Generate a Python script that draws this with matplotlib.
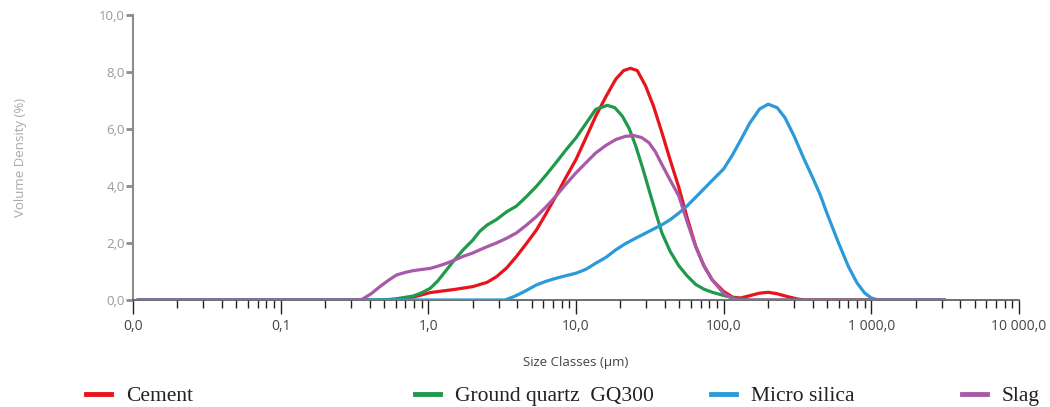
import matplotlib
matplotlib.use("Agg")
import matplotlib.pyplot as plt
from matplotlib.lines import Line2D
from matplotlib.ticker import FixedLocator, LogLocator, NullFormatter

# ---- data (size in µm, volume density in %) ----
cement_x = [0.0106, 0.55, 0.7, 0.79, 1.03, 1.5, 2.0, 2.5, 2.9, 3.4, 3.94, 4.6, 5.4, 6.3, 7.3, 8.5,
            10, 11.7, 13.6, 16, 18.6, 21, 23.4, 26, 29.6, 33.5, 38.2, 43.5, 49.7, 56.5, 64.5,
            73.5, 83.8, 100, 115, 130, 150, 175, 200, 230, 270, 320, 360, 3200]
cement_y = [0, 0, 0.06, 0.1, 0.26, 0.37, 0.47, 0.62, 0.82, 1.13, 1.52, 1.97, 2.46, 3.05, 3.64, 4.28,
            4.93, 5.7, 6.45, 7.15, 7.75, 8.05, 8.13, 8.05, 7.51, 6.8, 5.87, 4.9, 3.95, 2.9, 1.9,
            1.2, 0.7, 0.3, 0.1, 0.07, 0.15, 0.24, 0.27, 0.22, 0.12, 0.03, 0, 0]

quartz_x = [0.0106, 0.5, 0.6, 0.79, 0.9, 1.03, 1.15, 1.33, 1.5, 1.72, 2.0, 2.23, 2.5, 2.89, 3.4,
            3.94, 4.6, 5.4, 6.3, 7.3, 8.5, 10, 11.7, 13.6, 16.3, 18.3, 20.6, 23, 25.4, 28.2,
            31.2, 34.5, 38.2, 43.5, 49.7, 56.5, 64.5, 73.5, 83.8, 100, 115, 130, 150, 3200]
quartz_y = [0, 0, 0.04, 0.14, 0.25, 0.41, 0.65, 1.06, 1.4, 1.76, 2.1, 2.41, 2.63, 2.82, 3.1,
            3.29, 3.62, 3.99, 4.4, 4.81, 5.25, 5.69, 6.2, 6.69, 6.83, 6.75, 6.45, 6.0, 5.4, 4.65,
            3.87, 3.1, 2.35, 1.7, 1.2, 0.85, 0.55, 0.38, 0.27, 0.16, 0.08, 0.03, 0, 0]

silica_x = [0.0106, 3.3, 3.8, 4.37, 5.4, 6.3, 7.3, 8.5, 10, 11.7, 13.6, 16, 18.6, 21.5, 25.4, 31,
            38.2, 43.5, 49.7, 56.5, 64.5, 73.5, 83.8, 100, 115, 130, 150, 175, 200, 230, 260,
            300, 350, 400, 450, 500, 600, 700, 800, 900, 1000, 1100, 1200, 3200]
silica_y = [0, 0, 0.12, 0.27, 0.53, 0.66, 0.76, 0.85, 0.94, 1.08, 1.29, 1.5, 1.76, 1.97, 2.17, 2.4,
            2.64, 2.82, 3.05, 3.3, 3.6, 3.9, 4.2, 4.6, 5.1, 5.6, 6.2, 6.7, 6.87, 6.75, 6.4,
            5.75, 4.95, 4.3, 3.7, 3.05, 2.0, 1.17, 0.6, 0.25, 0.07, 0.01, 0, 0]

slag_x = [0.0106, 0.35, 0.41, 0.47, 0.54, 0.61, 0.7, 0.79, 0.9, 1.03, 1.15, 1.33, 1.5, 1.72, 2.0,
          2.23, 2.5, 2.89, 3.4, 3.94, 4.6, 5.4, 6.3, 7.3, 8.5, 10, 11.7, 13.6, 16, 18.6, 21.5,
          24.7, 27.8, 31.2, 34.5, 38.2, 43.5, 49.7, 56.5, 64.5, 73.5, 83.8, 100, 115, 125, 3200]
slag_y = [0, 0, 0.22, 0.47, 0.7, 0.88, 0.97, 1.03, 1.07, 1.11, 1.18, 1.29, 1.4, 1.53, 1.65,
          1.76, 1.87, 2.0, 2.17, 2.35, 2.62, 2.93, 3.28, 3.64, 4.05, 4.46, 4.82, 5.16, 5.43, 5.63, 5.74,
          5.77, 5.7, 5.52, 5.2, 4.75, 4.2, 3.65, 2.75, 1.88, 1.2, 0.7, 0.23, 0.05, 0, 0]

series_names = ["Cement", "Ground quartz  GQ300", "Micro silica", "Slag"]
x_ticks = [0.01, 0.1, 1, 10, 100, 1000, 10000]
x_tick_labels = ["0,0", "0,1", "1,0", "10,0", "100,0", "1 000,0", "10 000,0"]
y_ticks = [0, 2, 4, 6, 8, 10]
y_tick_labels = ["0,0", "2,0", "4,0", "6,0", "8,0", "10,0"]

colors = ["#e8141c", "#1f9a4a", "#2b9ad8", "#a85aa8"]

plt.rcParams['font.family'] = ['Open Sans', 'DejaVu Sans']

fig = plt.figure(figsize=(10.5, 4.07), dpi=100)
ax = fig.add_axes([133/1050, 1-300/407, 886/1050, 285/407])

data = [(cement_x, cement_y), (quartz_x, quartz_y), (silica_x, silica_y), (slag_x, slag_y)]
for i, ((xs, ys), c) in enumerate(zip(data, colors)):
    ax.plot(xs, ys, color=c, lw=2.3, solid_joinstyle='round', solid_capstyle='butt', zorder=2+i)

ax.set_xscale('log')
ax.set_xlim(0.01, 10000)
ax.set_ylim(0, 10)

ax.xaxis.set_major_locator(FixedLocator(x_ticks))
ax.set_xticklabels(x_tick_labels)
ax.xaxis.set_minor_locator(LogLocator(base=10, subs=range(2, 10), numticks=50))
ax.xaxis.set_minor_formatter(NullFormatter())
ax.set_yticks(y_ticks)
ax.set_yticklabels(y_tick_labels)

for s in ['top', 'right']:
    ax.spines[s].set_visible(False)
ax.spines['left'].set_color('#8c8c8c')
ax.spines['left'].set_linewidth(1.5)
ax.spines['bottom'].set_color('#555555')
ax.spines['bottom'].set_linewidth(1.2)

ax.tick_params(axis='x', which='major', direction='out', length=10, width=1.0, color='#222222',
               labelsize=10, labelcolor='#444444', pad=4)
ax.tick_params(axis='x', which='minor', direction='out', length=6, width=1.0, color='#222222')
ax.tick_params(axis='y', which='major', direction='out', length=5, width=2.0, color='#8c8c8c',
               labelsize=9.5, labelcolor='#9a9a9a', pad=1)

ax.set_xlabel("Size Classes (µm)", fontsize=9.5, color='#444444')
ax.xaxis.set_label_coords(0.5, -0.195)
ax.set_ylabel("Volume Density (%)", fontsize=9.5, color='#aaaaaa')
ax.yaxis.set_label_coords(-0.12, 0.5)

# legend entries placed along the bottom
leg_x = [86, 415, 711, 962]
for name, c, lx in zip(series_names, colors, leg_x):
    h = Line2D([], [], color=c, lw=3.5)
    fig.legend(handles=[h], labels=[name], loc='center left',
               bbox_to_anchor=(lx/1050, 1-396/407), frameon=False,
               borderpad=0, borderaxespad=0, handlelength=1.15, handletextpad=0.7,
               prop={'family': 'Liberation Serif', 'size': 15.5}, labelcolor='#222222')

fig.savefig("out.png", dpi=100)
